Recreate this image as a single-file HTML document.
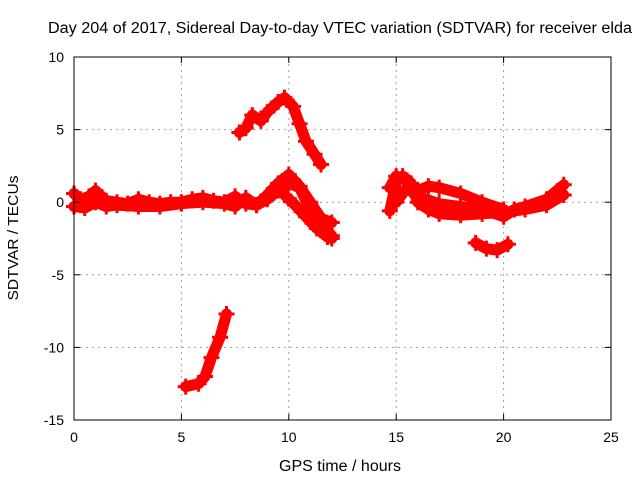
<!DOCTYPE html>
<html><head><meta charset="utf-8"><style>
body{margin:0;background:#fff;}
svg text{font-family:"Liberation Sans",Arial,sans-serif;font-size:14px;fill:#000;}
</style></head><body>
<svg id="chart" width="640" height="480" xmlns="http://www.w3.org/2000/svg">
<rect width="640" height="480" fill="#fff"/>
<g id="grid"></g><g id="marks"></g><g id="axes"></g>
<text x="340" y="33" text-anchor="middle" textLength="584" lengthAdjust="spacingAndGlyphs" style="font-size:15.5px">Day 204 of 2017, Sidereal Day-to-day VTEC variation (SDTVAR) for receiver elda</text>
<text x="340" y="471" text-anchor="middle" textLength="122" lengthAdjust="spacingAndGlyphs" style="font-size:15.5px">GPS time / hours</text>
<text x="18" y="238" text-anchor="middle" transform="rotate(-90 18 238)" textLength="125" lengthAdjust="spacingAndGlyphs" style="font-size:14.5px">SDTVAR / TECUs</text>
</svg>
<script>
const xTicks=[0,5,10,15,20,25];
const yTicks=[10,5,0,-5,-10,-15];
const s1T=[0,0.3,0.7,1,1.5,2,2.5,3,3.5,4,4.5,5,5.5,6,6.5,7,7.5,8,8.5,9,9.5,10,10.5,11,11.5,12];
const s1V=[0.6,0.2,0.4,0.8,0.1,0,-0.1,0.2,0,-0.1,0,0,0.2,0.3,0.1,0,0.4,-0.1,-0.2,0.5,1.3,1.9,1.1,0,-1.1,-1.4];
const s2T=[0,0.5,1,1.5,2,3,4,5,6,7,7.5,8,8.5,9,9.5,10,10.5,11,11.5,12];
const s2V=[-0.3,-0.4,0,-0.3,-0.2,-0.3,-0.3,-0.1,0,-0.1,-0.3,0.3,-0.2,0.2,0.8,1.3,1,-0.5,-1.5,-2.3];
const s3T=[9.8,10.3,10.8,11.3,11.8,12];
const s3V=[0.5,-0.2,-1,-1.8,-2.4,-2.5];
const s4T=[7.7,8,8.3,8.7,9,9.5,9.8,10.2,10.5,10.8,11.2,11.5];
const s4V=[4.8,5.1,6,5.6,6.2,6.9,7.2,6.6,5.4,4.2,3.3,2.6];
const s5T=[5.2,5.8,6.1,6.4,6.8,7.1];
const s5V=[-12.7,-12.5,-12,-10.7,-9.3,-7.7];
const s6T=[14.7,15,15.3,15.7,16,16.5,17,18,19,20,21,22,22.8];
const s6V=[-0.6,1.4,1.8,1.3,0,-0.5,-0.8,-0.9,-0.8,-0.7,-0.5,-0.2,0.5];
const s7T=[14.7,15,15.5,16,16.5,17,18,19,20];
const s7V=[1,1.8,1.5,0.8,1.1,1,0.6,0,-0.5];
const s8T=[15,15.5,16,17,18,19,20,20.5,21,22,22.8];
const s8V=[0,1,0.4,-0.1,-0.3,-0.5,-1,-0.5,-0.3,0.2,1.2];
const s9T=[18.7,19.2,19.7,20.2];
const s9V=[-2.8,-3.2,-3.3,-2.9];
const series=[[s1T,s1V],[s2T,s2V],[s3T,s3V],[s4T,s4V],[s5T,s5V],[s6T,s6V],[s7T,s7V],[s8T,s8V],[s9T,s9V]];
const X0=74,X1=611,Y0=420,Y1=57;
const xs=v=>X0+(v-0)/25*(X1-X0);
const ys=v=>Y0-(v+15)/25*(Y0-Y1);
const NS="http://www.w3.org/2000/svg";
function mk(t,a,p){const e=document.createElementNS(NS,t);for(const k in a)e.setAttribute(k,a[k]);p.appendChild(e);return e;}
const grid=document.getElementById('grid'),axes=document.getElementById('axes'),marks=document.getElementById('marks');
xTicks.forEach(t=>{const x=xs(t);
 if(t>0&&t<25){const g=mk('line',{x1:x,x2:x,y1:Y0,y2:Y1,stroke:'#a0a0a0','stroke-dasharray':'2,4'},grid);
 
 }
 mk('line',{x1:x,x2:x,y1:Y0,y2:Y0-6,stroke:'#000'},axes);mk('line',{x1:x,x2:x,y1:Y1,y2:Y1+6,stroke:'#000'},axes);
 const l=mk('text',{x:x,y:Y0+22,'text-anchor':'middle'},axes);l.textContent=t;
 
 });
yTicks.forEach(t=>{const y=ys(t);
 if(t>-15&&t<10){const g=mk('line',{x1:X0,x2:X1,y1:y,y2:y,stroke:'#a0a0a0','stroke-dasharray':'2,4'},grid);
 
 }
 mk('line',{x1:X0,x2:X0+6,y1:y,y2:y,stroke:'#000'},axes);mk('line',{x1:X1,x2:X1-6,y1:y,y2:y,stroke:'#000'},axes);
 const l=mk('text',{x:X0-10,y:y+5,'text-anchor':'end'},axes);l.textContent=t;
 
 });
const fr=mk('rect',{x:X0,y:Y1,width:X1-X0,height:Y0-Y1,fill:'none',stroke:'#000'},axes);


series.forEach(([T,V],i)=>{
 const pts=T.map((t,j)=>xs(t)+','+ys(V[j])).join(' ');
 const pl=mk('polyline',{points:pts,fill:'none',stroke:'#ff0000','stroke-width':11,'stroke-linejoin':'round','stroke-linecap':'round'},marks);
 
 
 T.forEach((t,j)=>{const x=xs(t),y=ys(V[j]);
  const p=mk('path',{d:`M${x-8},${y}H${x+8}M${x},${y-8}V${y+8}`,stroke:'#ff0000','stroke-width':3},marks);
  
  });
});
</script>
</body></html>
